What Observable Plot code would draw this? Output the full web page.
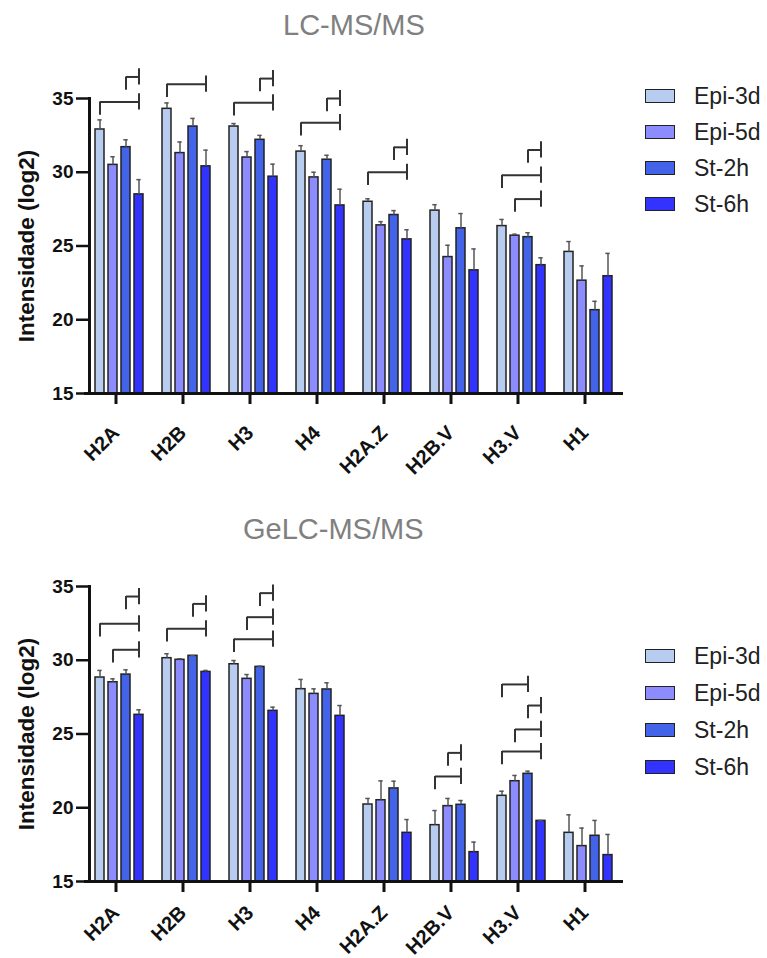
<!DOCTYPE html>
<html><head><meta charset="utf-8">
<script src="https://cdn.jsdelivr.net/npm/d3@7"></script>
<script src="https://cdn.jsdelivr.net/npm/@observablehq/plot@0.6"></script>
<style>
body{margin:0;background:#fff;font-family:"Liberation Sans",Arial,sans-serif;}
#root{position:relative;width:767px;height:958px;overflow:hidden;background:#fff;}
.title{position:absolute;font-size:29px;line-height:29px;color:#808080;white-space:nowrap;}
.chart{position:absolute;left:0;}
.item{position:absolute;left:645px;height:30px;display:flex;align-items:center;white-space:nowrap;font-size:23px;color:#222;}
.sw{width:30px;height:14px;border:1.5px solid #222;box-sizing:border-box;margin-right:19px;}
</style></head>
<body><div id="root"></div>
<script>
const categories = ["H2A","H2B","H3","H4","H2A.Z","H2B.V","H3.V","H1"];
const series = ["Epi-3d","Epi-5d","St-2h","St-6h"];
const colors = ["#B8CCF0","#8C8CFF","#4364E8","#3333FF"];
const yTicks = [15,20,25,30,35];

// LC-MS/MS: mean and upper error (SD) per category, one value per series
const lcMean = [
  [32.9,30.5,31.7,28.5],[34.3,31.3,33.1,30.4],[33.1,31.0,32.2,29.7],[31.4,29.65,30.85,27.75],
  [28.0,26.4,27.1,25.45],[27.4,24.25,26.2,23.35],[26.35,25.7,25.6,23.7],[24.6,22.65,20.65,22.95]
];
const lcSD = [
  [0.65,0.55,0.5,1.0],[0.4,0.75,0.55,1.1],[0.2,0.4,0.3,0.85],[0.4,0.35,0.3,1.1],
  [0.2,0.25,0.3,0.65],[0.4,0.8,1.0,1.45],[0.45,0.1,0.3,0.5],[0.7,1.0,0.6,1.55]
];
const lcBrackets = [
  ["H2A","Epi-3d","St-6h",34.77],["H2A","St-2h","St-6h",36.46],
  ["H2B","Epi-3d","St-6h",35.97],
  ["H3","Epi-3d","St-6h",34.71],["H3","St-2h","St-6h",36.35],
  ["H4","Epi-3d","St-6h",33.36],["H4","St-2h","St-6h",35.0],
  ["H2A.Z","Epi-3d","St-6h",30.0],["H2A.Z","St-2h","St-6h",31.69],
  ["H3.V","Epi-5d","St-6h",28.18],["H3.V","Epi-3d","St-6h",29.8],["H3.V","St-2h","St-6h",31.51]
];

// GeLC-MS/MS
const gelcMean = [
  [28.83,28.51,29.03,26.3],[30.14,30.03,30.3,29.21],[29.73,28.74,29.55,26.57],[28.04,27.72,28.02,26.23],
  [20.22,20.51,21.31,18.3],[18.82,20.11,20.2,16.99],[20.81,21.8,22.3,19.11],[18.3,17.4,18.1,16.79]
];
const gelcSD = [
  [0.48,0.23,0.32,0.34],[0.3,0.07,0.02,0.1],[0.25,0.29,0.05,0.25],[0.66,0.34,0.45,0.7],
  [0.41,1.31,0.49,0.9],[0.99,0.52,0.29,0.68],[0.31,0.39,0.18,0.03],[1.22,1.22,1.04,1.4]
];
const gelcBrackets = [
  ["H2A","St-2h","St-6h",34.32],["H2A","Epi-3d","St-6h",32.47],["H2A","Epi-5d","St-6h",30.71],
  ["H2B","St-2h","St-6h",33.82],["H2B","Epi-3d","St-6h",32.13],
  ["H3","St-2h","St-6h",34.55],["H3","Epi-5d","St-6h",32.92],["H3","Epi-3d","St-6h",31.43],
  ["H2B.V","Epi-5d","St-2h",23.72],["H2B.V","Epi-3d","St-2h",22.12],
  ["H3.V","Epi-3d","St-2h",28.36],["H3.V","St-2h","St-6h",26.93],["H3.V","Epi-5d","St-6h",25.31],["H3.V","Epi-3d","St-6h",23.81]
];

const FONT = '"Liberation Sans", Arial, sans-serif';

function chart(means, sds, brackets, height, marginBottom, labelPad) {
  const rows = [];
  categories.forEach((c, i) => series.forEach((s, j) => rows.push({cat: c, s, mean: means[i][j], sd: sds[i][j]})));
  const br = brackets.map(([cat, from, to, level]) => ({cat, from, to, level}));
  const LEG = 0.9, TK = 0.55;
  return Plot.plot({
    width: 767, height,
    marginLeft: 85, marginRight: 146, marginTop: 58, marginBottom,
    style: {fontFamily: FONT, color: "#111", overflow: "visible", background: "transparent"},
    fx: {domain: categories, paddingInner: 0.1176, paddingOuter: 0, label: null},
    x: {domain: series, paddingInner: 0.33, paddingOuter: 0.371, axis: null},
    y: {domain: [15, 35], axis: null},
    color: {domain: series, range: colors},
    marks: [
      Plot.barY(rows, {fx: "cat", x: "s", y1: 15, y2: "mean", fill: "s", stroke: "#222", strokeWidth: 1.5}),
      Plot.ruleX(rows, {fx: "cat", x: "s", y1: "mean", y2: d => d.mean + d.sd, stroke: "#555", strokeWidth: 1.5}),
      Plot.tickY(rows, {fx: "cat", x: "s", y: d => d.mean + d.sd, stroke: "#555", strokeWidth: 1.5, insetLeft: 2.3, insetRight: 2.3}),
      Plot.link(br, {fx: "cat", x1: "from", x2: "to", y1: "level", y2: "level", stroke: "#333", strokeWidth: 2}),
      Plot.ruleX(br, {fx: "cat", x: "from", y1: "level", y2: d => d.level - LEG, stroke: "#333", strokeWidth: 2}),
      Plot.ruleX(br, {fx: "cat", x: "to", y1: d => d.level + TK, y2: d => d.level - TK, stroke: "#333", strokeWidth: 2}),
      Plot.axisY({ticks: yTicks, tickSize: 13, tickPadding: 3, fontSize: 19, fontWeight: "bold", strokeWidth: 2.5, label: null, tickFormat: d3.format("d"), color: "#111"}),
      Plot.frame({anchor: "left", facetAnchor: "left", stroke: "#111", strokeWidth: 3}),
      Plot.frame({anchor: "bottom", stroke: "#111", strokeWidth: 3, insetLeft: -4, insetRight: -4}),
      Plot.axisFx({anchor: "bottom", tickSize: 11, tickPadding: labelPad, dx: -3, tickRotate: -45, fontSize: 20, fontWeight: "bold", strokeWidth: 3, label: null, color: "#111"}),
      Plot.text(["Intensidade (log2)"], {frameAnchor: "left", facetAnchor: "left", textAnchor: "middle", rotate: -90, dx: -63, fontSize: 22.5, fontWeight: "bold", fill: "#111"})
    ]
  });
}

const root = document.getElementById("root");
function addTitle(text, left, top) {
  const d = document.createElement("div");
  d.className = "title"; d.textContent = text;
  d.style.left = left + "px"; d.style.top = top + "px";
  root.appendChild(d);
}
function addChart(svg, top) {
  svg.classList.add("chart");
  svg.style.top = top + "px";
  root.appendChild(svg);
}
function addLegend(centers) {
  series.forEach((s, i) => {
    const it = document.createElement("div");
    it.className = "item";
    it.style.top = (centers[i] - 15) + "px";
    const sw = document.createElement("div");
    sw.className = "sw"; sw.style.background = colors[i];
    const t = document.createElement("span"); t.textContent = s;
    it.appendChild(sw); it.appendChild(t);
    root.appendChild(it);
  });
}

addTitle("LC-MS/MS", 283, 11);
addChart(chart(lcMean, lcSD, lcBrackets, 433, 80, 25), 40);
addLegend([96, 132, 168, 204]);

addTitle("GeLC-MS/MS", 243, 515);
addChart(chart(gelcMean, gelcSD, gelcBrackets, 430, 77, 17), 528);
addLegend([656, 693, 730, 767]);
</script>
</body></html>
